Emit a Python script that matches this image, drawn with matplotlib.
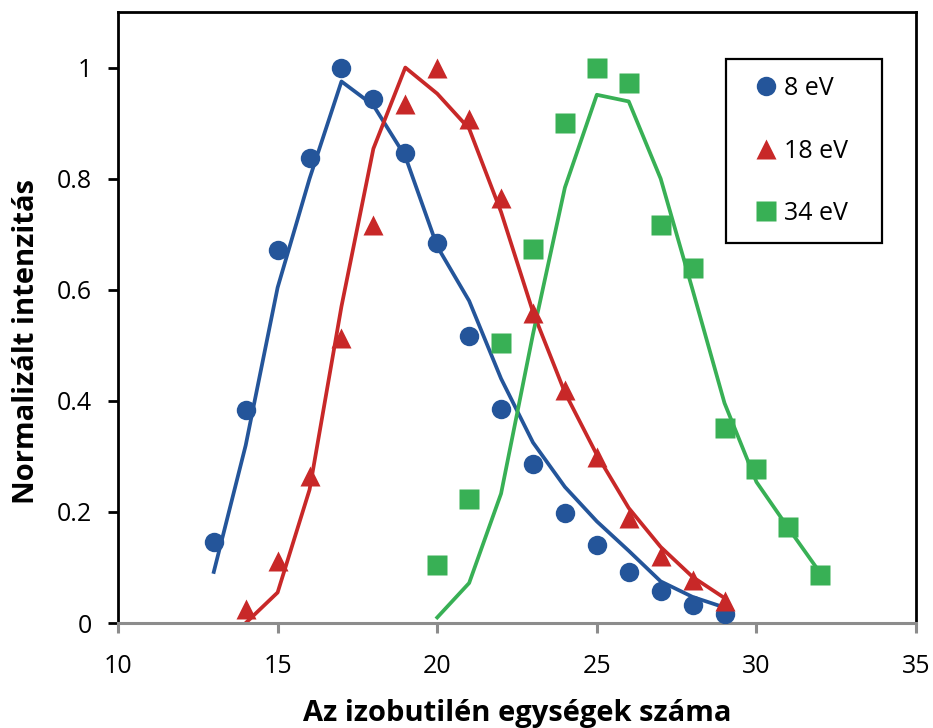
import matplotlib.pyplot as plt
from matplotlib.patches import Rectangle
import numpy as np

plt.rcParams['font.family'] = ['Open Sans', 'DejaVu Sans']

# measured points
x_8 = np.arange(13, 30)
y_8 = [0.145, 0.383, 0.671, 0.838, 1.0, 0.944, 0.847, 0.685, 0.516, 0.386,
       0.286, 0.198, 0.140, 0.092, 0.057, 0.033, 0.016]
x_18 = np.arange(14, 30)
y_18 = [0.026, 0.112, 0.265, 0.514, 0.716, 0.935, 1.0, 0.908, 0.766, 0.559,
        0.420, 0.299, 0.189, 0.121, 0.077, 0.040]
x_34 = np.arange(20, 33)
y_34 = [0.104, 0.223, 0.504, 0.673, 0.901, 1.0, 0.973, 0.716, 0.640, 0.351,
        0.277, 0.173, 0.086]

# model curves
fit_8 = [0.092, 0.32, 0.604, 0.80, 0.975, 0.932, 0.84, 0.678, 0.58, 0.44,
         0.325, 0.245, 0.183, 0.13, 0.075, 0.047, 0.028]
fit_18 = [0.0, 0.055, 0.24, 0.57, 0.854, 1.0, 0.953, 0.89, 0.74, 0.56,
          0.415, 0.303, 0.207, 0.137, 0.083, 0.045]
fit_34 = [0.01, 0.072, 0.233, 0.52, 0.784, 0.951, 0.939, 0.80, 0.60, 0.396,
          0.254, 0.171, 0.09]

blue = '#24559a'
red = '#c82828'
green = '#38b055'

fig = plt.figure(figsize=(9.33, 7.28), dpi=100)
ax = fig.add_axes([0.1265, 0.1442, 0.8553, 0.8393])

ax.plot(x_8, fit_8, color=blue, lw=2.7, zorder=2)
ax.plot(x_18, fit_18, color=red, lw=2.7, zorder=2)
ax.plot(x_34, fit_34, color=green, lw=2.7, zorder=2)

ax.plot(x_8, y_8, 'o', color=blue, ms=14, mec='none', label='8 eV', zorder=3)
ax.plot(x_18, y_18, '^', color=red, ms=14, mec='none', label='18 eV', zorder=3)
ax.plot(x_34, y_34, 's', color=green, ms=14, mec='none', label='34 eV', zorder=3)

ax.set_xlim(10, 35)
ax.set_ylim(0, 1.1)
ax.set_xticks([10, 15, 20, 25, 30, 35])
ax.set_yticks([0, 0.2, 0.4, 0.6, 0.8, 1.0])
ax.set_yticklabels(['0', '0.2', '0.4', '0.6', '0.8', '1'])

for s in ['left', 'top', 'right']:
    ax.spines[s].set_color('black')
    ax.spines[s].set_linewidth(2.0)
ax.spines['bottom'].set_color('#8c8c8c')
ax.spines['bottom'].set_linewidth(2.2)

ax.tick_params(axis='y', direction='out', length=7, width=2.0, color='black',
               labelsize=18, pad=12)
ax.tick_params(axis='x', direction='out', length=7, width=2.2, color='#8c8c8c',
               labelsize=18, pad=15)

ax.set_xlabel('Az izobutilén egységek száma', fontsize=21, fontweight='bold')
ax.set_ylabel('Normalizált intenzitás', fontsize=21, fontweight='bold')
ax.xaxis.set_label_coords(0.5, -0.124)
ax.yaxis.set_label_coords(-0.096, 0.46)

# legend box with its own frame
ax.add_patch(Rectangle((0.762, 0.622), 0.195, 0.301, transform=ax.transAxes,
                       fill=False, edgecolor='black', lw=1.6, zorder=4))
leg = ax.legend(loc='center', bbox_to_anchor=(0.857, 0.7725), fontsize=18,
                frameon=False, handlelength=0.8, handletextpad=0.3,
                labelspacing=1.5, borderpad=0.0, numpoints=1)

fig.savefig('out.png', dpi=100)
